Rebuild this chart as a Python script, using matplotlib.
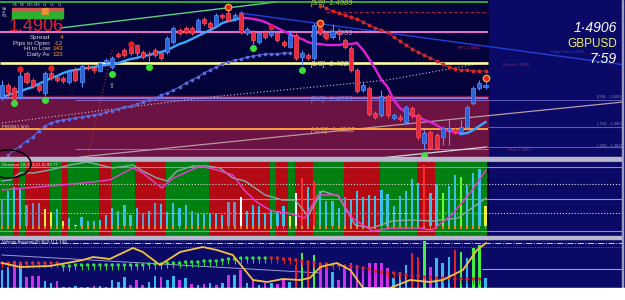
import matplotlib
matplotlib.use("Agg")
import matplotlib.pyplot as plt
from matplotlib.patches import Rectangle, Ellipse
import numpy as np

plt.rcParams['font.family'] = ['Liberation Sans', 'DejaVu Sans']

# ---------------- DATA ----------------
opens = [1.4894, 1.4906, 1.4903, 1.4894, 1.4918, 1.4911, 1.4906, 1.4898, 1.4918, 1.4914,
         1.4913, 1.4909, 1.4921, 1.4909, 1.4924, 1.4923, 1.4920, 1.4929, 1.4924, 1.4937,
         1.4941, 1.4944, 1.4946, 1.4939, 1.4937, 1.4941, 1.4938, 1.4939, 1.4949, 1.4961,
         1.4963, 1.4963, 1.4961, 1.4972, 1.4968, 1.4966, 1.4976, 1.4978, 1.4973, 1.4978,
         1.4958, 1.4959, 1.4949, 1.4959, 1.4956, 1.4958, 1.4949, 1.4944, 1.4956, 1.4934,
         1.4936, 1.4933, 1.4964, 1.4958, 1.4954, 1.4959, 1.4951, 1.4943, 1.4921, 1.4901,
         1.4903, 1.4878, 1.4876, 1.4895, 1.4873, 1.4874, 1.4869, 1.4883, 1.4876, 1.4848,
         1.4859, 1.4856, 1.4854, 1.4861, 1.4862, 1.4859, 1.4864, 1.4888, 1.4903, 1.4904]
closes = [1.4906, 1.4899, 1.4892, 1.4915, 1.4909, 1.4905, 1.4901, 1.4918, 1.4913, 1.4911,
          1.4910, 1.4920, 1.4911, 1.4925, 1.4923, 1.4921, 1.4928, 1.4931, 1.4933, 1.4935,
          1.4936, 1.4938, 1.4938, 1.4934, 1.4936, 1.4936, 1.4933, 1.4953, 1.4963, 1.4958,
          1.4959, 1.4958, 1.4971, 1.4968, 1.4964, 1.4976, 1.4974, 1.4971, 1.4976, 1.4959,
          1.4962, 1.4951, 1.4958, 1.4954, 1.4959, 1.4951, 1.4946, 1.4956, 1.4933, 1.4938,
          1.4933, 1.4966, 1.4958, 1.4953, 1.4960, 1.4957, 1.4944, 1.4921, 1.4900, 1.4906,
          1.4877, 1.4874, 1.4895, 1.4876, 1.4876, 1.4872, 1.4884, 1.4876, 1.4854, 1.4858,
          1.4843, 1.4843, 1.4863, 1.4863, 1.4859, 1.4864, 1.4884, 1.4903, 1.4908, 1.4906]
highs = [1.4911, 1.4908, 1.4905, 1.4920, 1.4920, 1.4913, 1.4908, 1.4920, 1.4921, 1.4916,
         1.4915, 1.4922, 1.4924, 1.4927, 1.4927, 1.4925, 1.4930, 1.4933, 1.4935, 1.4939,
         1.4943, 1.4945, 1.4947, 1.4941, 1.4940, 1.4943, 1.4940, 1.4955, 1.4965, 1.4963,
         1.4965, 1.4965, 1.4973, 1.4974, 1.4970, 1.4978, 1.4978, 1.4981, 1.4978, 1.4980,
         1.4964, 1.4961, 1.4960, 1.4961, 1.4961, 1.4960, 1.4951, 1.4961, 1.4958, 1.4941,
         1.4938, 1.4968, 1.4966, 1.4960, 1.4967, 1.4963, 1.4953, 1.4945, 1.4923, 1.4909,
         1.4905, 1.4880, 1.4901, 1.4897, 1.4878, 1.4877, 1.4886, 1.4885, 1.4878, 1.4861,
         1.4861, 1.4858, 1.4865, 1.4871, 1.4864, 1.4871, 1.4886, 1.4905, 1.4911, 1.4910]
lows = [1.4891, 1.4895, 1.4890, 1.4892, 1.4907, 1.4903, 1.4899, 1.4895, 1.4911, 1.4909,
        1.4908, 1.4907, 1.4909, 1.4904, 1.4921, 1.4918, 1.4919, 1.4927, 1.4922, 1.4933,
        1.4934, 1.4936, 1.4935, 1.4932, 1.4929, 1.4934, 1.4931, 1.4937, 1.4947, 1.4956,
        1.4957, 1.4956, 1.4960, 1.4966, 1.4962, 1.4964, 1.4972, 1.4969, 1.4971, 1.4957,
        1.4956, 1.4947, 1.4947, 1.4952, 1.4954, 1.4949, 1.4944, 1.4943, 1.4931, 1.4926,
        1.4931, 1.4931, 1.4956, 1.4951, 1.4952, 1.4951, 1.4942, 1.4919, 1.4898, 1.4899,
        1.4875, 1.4872, 1.4874, 1.4873, 1.4871, 1.4870, 1.4867, 1.4873, 1.4851, 1.4842,
        1.4841, 1.4841, 1.4846, 1.4846, 1.4857, 1.4857, 1.4862, 1.4886, 1.4901, 1.4902]

# trend moving average (cyan = rising, magenta = falling)
ma_main = [1.4894, 1.4896, 1.4898, 1.4900, 1.4902, 1.4904, 1.4907, 1.4910, 1.4913, 1.4915,
           1.4918, 1.4920, 1.4921, 1.4922, 1.4923, 1.4924, 1.4925, 1.4926, 1.4927, 1.4928,
           1.4930, 1.4932, 1.4933, 1.4935, 1.4936, 1.4938, 1.4939, 1.4941, 1.4944, 1.4947,
           1.4949, 1.4952, 1.4955, 1.4958, 1.4961, 1.4964, 1.4968, 1.4970, 1.4971, 1.4973,
           1.4973, 1.4972, 1.4971, 1.4969, 1.4966, 1.4963, 1.4960, 1.4957, 1.4954, 1.4952,
           1.4949, 1.4947, 1.4947, 1.4946, 1.4946, 1.4946, 1.4947, 1.4947, 1.4948, 1.4941,
           1.4932, 1.4922, 1.4911, 1.4904, 1.4891, 1.4883, 1.4879, 1.4876, 1.4874, 1.4871,
           1.4869, 1.4866, 1.4862, 1.4860, 1.4859, 1.4857, 1.4858, 1.4861, 1.4865, 1.4869]
ma_falling_from, ma_falling_to = 39, 75

# slow dotted MA (blue), candles 1..47
slow_ma_start = 1
slow_ma = [1.4836, 1.4841, 1.4845, 1.4850, 1.4854, 1.4860, 1.4865, 1.4868, 1.4870, 1.4871,
           1.4872, 1.4873, 1.4874, 1.4875, 1.4876, 1.4877, 1.4879, 1.4880, 1.4882, 1.4884,
           1.4885, 1.4887, 1.4889, 1.4891, 1.4893, 1.4896, 1.4898, 1.4901, 1.4904, 1.4908,
           1.4911, 1.4914, 1.4918, 1.4921, 1.4924, 1.4927, 1.4929, 1.4931, 1.4932, 1.4934,
           1.4935, 1.4936, 1.4937, 1.4937, 1.4937, 1.4938, 1.4938]
# red dotted MA, candles 52..79
red_ma_start = 52
red_ma = [1.4985, 1.4983, 1.4980, 1.4978, 1.4976, 1.4974, 1.4972, 1.4969, 1.4966, 1.4963,
          1.4961, 1.4959, 1.4954, 1.4950, 1.4946, 1.4942, 1.4939, 1.4936, 1.4933, 1.4930,
          1.4927, 1.4924, 1.4922, 1.4921, 1.4921, 1.4920, 1.4920, 1.4920]

# Murrey levels
levels = [1.4989, 1.4959, 1.4928, 1.4893, 1.4862]
level_names = ['[3/8]', '[2/8]', '[1/8]', '[0/8]', '[-1/8]']

# fractal / signal markers
green_dot_idx = [2, 7, 18, 24, 41, 49, 69]
green_dot_price = [1.4888, 1.4891, 1.4917, 1.4924, 1.4943, 1.4921, 1.4836]
red_dot_idx = [3, 8, 21]
red_dot_price = [1.4922, 1.4923, 1.4947]
ring_idx = [37, 52, 79]
ring_price = [1.4984, 1.4968, 1.4913]
square_idx = [44]
square_price = [1.4964]

# trend lines (index, price)
green_trend = ([9.5, 44.8], [1.4963, 1.4989])
blue_trend = ([38.9, 101.8], [1.4978, 1.4926])
gray_trend = ([12.7, 101.5], [1.4834, 1.4889])
low_trend = ([61.8, 79.2], [1.4833, 1.4844])
white_dotted = ([0, 34, 63, 79.3], [1.4868, 1.4894, 1.4911, 1.4929])
red_vertical = ([18, 14], [1.4941, 1.4834])

# oscillator panel
trend_dir = list("gg" "r" "g" "rrrr" "gg" "r" "ggggg" "rr" "gggg" "rrrrr" "ggggggg"
                 "rrrrrrrrrr" "g" "rr" "g" "rrr" "ggggg" "rrrrrr" "gggggg" "rrr" "ggggggggg")
osc_vals = [26, 35, 39, 37, 21, 23, 23, 17, 14, 17, 5, 8, 1, 9, 5, 5, 6, 11, 18, 15,
            21, 11, 18, 13, 15, 23, 22, 14, 23, 18, 21, 15, 13, 13, 13, 12, 11, 24, 24, 29,
            15, 21, 20, 13, 15, 14, 20, 10, 33, 48, 39, 45, 35, 25, 25, 18, 29, 26, 35, 29,
            31, 30, 36, 32, 20, 30, 35, 47, 43, 61, 33, 42, 33, 40, 51, 49, 41, 53, 57, 20]
osc_cols = list("bcccbbbyyc" "ycyccccccc" "cccbcbcccc" "cccccccbbw"
                "cccccccywr" "crccccbccc" "cccccccccr" "ccgccgcccy")
osc_line1_x = [0, 1.3, 2.9, 5.1, 7.8, 11.1, 13.9, 16, 18.1, 21.4, 23, 25.3, 27, 28.6, 31.2, 33.5,
               35.6, 37.7, 39.7, 43, 45.8, 47.9, 50, 52.3, 54.9, 57.7, 60.5, 63.7, 67, 70.3, 74.5, 79.1]
osc_line1_v = [45, 46, 53, 53, 56, 61, 64, 61, 58, 61, 55, 48, 45, 55, 60, 60,
               58, 48, 45, 31, 26, 26, 10, 35, 30, 1, -2, 5, 6, 5, 8, 28]
osc_line2_x = [0, 7.8, 13.2, 17.6, 21.4, 23, 26.1, 28, 32.4, 35.1, 37.7, 39.7, 41.8, 44.1, 46.7,
               49.5, 51.6, 54.9, 57.2, 60.5, 63.7, 68, 70.3, 73.5, 76.7, 79.1]
osc_line2_v = [36, 40, 43, 46, 58, 53, 38, 48, 60, 56, 51, 35, 23, 15, 13,
               8, 31, 31, 8, -5, -2, -2, -4, 11, 35, 56]

# volume panel
vol_vals = [18, 21, 27, 26, 11, 12, 12, 7, 5, 7, 1, 1, 2, 1, 1, 2, 2, 1, 8, 6,
            11, 3, 8, 3, 6, 12, 11, 8, 12, 8, 10, 4, 3, 4, 5, 3, 5, 13, 13, 18,
            5, 9, 3, 5, 5, 4, 9, 6, 23, 35, 26, 33, 25, 21, 16, 8, 20, 25, 23, 20,
            25, 25, 25, 20, 10, 16, 23, 35, 31, 47, 21, 30, 25, 31, 38, 36, 30, 40, 43, 10]
vol_cols = list("ccmcmmmccm" "cmcmcmcccc" "cmmmccmccm" "cmcmcmcmcm"
                "cmcmcmmcrg" "rgmmcmmmmm" "mmmmcccrrg" "mcccrgcggc")
vol_avg_x = [0, 2.9, 7.8, 10.6, 13.2, 14.9, 17.6, 21.4, 23, 25.8, 29.1, 32.8, 35.1, 37.7, 41,
             43.3, 45.9, 48.7, 50.3, 52, 54.7, 56.9, 59, 63.4, 66.7, 69.9, 72, 75.3, 77.6, 79.1]
vol_avg_v = [25, 21, 22, 25, 28, 31, 29, 40, 36, 23, 36, 41, 38, 33, 8,
             6, 9, 8, 10, 21, 25, 18, 0, 0, 8, 6, 8, 18, 38, 45]
vol_dot_lvl = [25, 25, 25, 25, 25, 25, 25, 25, 25, 25,
               22, 22, 23, 23, 23, 23, 23, 23, 23, 23, 23, 23, 23, 23, 24, 24, 24, 25, 25, 25,
               26, 26, 26, 27, 27, 27, 28, 29, 29, 30, 30, 30, 30, 30,
               30, 30, 29, 29, 28, 27, 26, 25, 24, 24, 23, 23, 22, 22, 21, 20, 19, 17, 16, 15,
               15, 14, 13, 12, 12, 11, 11, 10, 10, 10, 9, 9, 9, 9, 9]
vol_dot_sig = list("rrrrrrrrrr" + "g" * 34 + "r" * 35)

# ---------------- FIGURE ----------------
W, H = 625, 300
NAVY = '#0a0a66'
fig = plt.figure(figsize=(6.25, 3.0), dpi=100, facecolor=NAVY)


def px_axes(top, bottom, left=0, right=622):
    return fig.add_axes([left / W, 1 - bottom / H, (right - left) / W, (bottom - top) / H])


ax = px_axes(0, 157)
axo = px_axes(160, 236)
axv = px_axes(239, 288)
XMIN, XMAX = -0.33, 101.3
DATA_END = 79.4
for a in (ax, axo, axv):
    a.set_xlim(XMIN, XMAX)
    a.set_facecolor(NAVY)
    a.set_xticks([])
    a.set_yticks([])
    for s in a.spines.values():
        s.set_visible(False)

PMIN, PMAX = 1.4834, 1.4991
ax.set_ylim(PMIN, PMAX)
axo.set_ylim(-10, 66)
axv.set_ylim(0, 49)

# separators / frame
for top, h in ((157, 3), (236, 3)):
    fig.patches.append(Rectangle((0, 1 - (top + h) / H), 622 / W, h / H,
                                 transform=fig.transFigure, color='#b8b8cc', zorder=5))
fig.patches.append(Rectangle((622 / W, 12 / H), 1.3 / W, 288 / H, transform=fig.transFigure,
                             color='#9a9ac0', zorder=5))
fig.patches.append(Rectangle((0, 0), 1, 12 / H, transform=fig.transFigure, color='white', zorder=6))

# ---- main panel ----
idx = np.arange(len(opens))
ax.add_patch(Rectangle((XMIN, PMIN), DATA_END - XMIN, PMAX - PMIN, color='#03033a', zorder=0))
ax.add_patch(Rectangle((XMIN, PMIN), DATA_END - XMIN, levels[3] + 0.0002 - PMIN, color='#6b1342', zorder=0.2))

lvl_cols = ['#36c236', '#e070c8', '#ffff9c', '#8a8aff', '#ffa040']
lvl_lw = [1.2, 1.5, 1.9, 1.2, 1.4]
lbl_cols = ['#b8c840', '#9a9ad0', '#e8e860', '#6a78e0', '#e89a40']
for lv, c, lw in zip(levels, lvl_cols, lvl_lw):
    ax.hlines(lv, XMIN, DATA_END, color=c, lw=lw, zorder=2)
for lv, name, c in zip(levels, level_names, lbl_cols):
    ax.text(50.3, lv - 0.00015, f'{name}  {lv:.4f}', color=c, fontsize=5.5, style='italic',
            va='center', ha='left', zorder=2.5)

ax.hlines(levels[3] - 0.0002, 12, DATA_END, color='#8a5ab0', lw=0.8, zorder=1)
ax.hlines(1.4842, 12, DATA_END, color='#8a6ac8', lw=0.8, zorder=1)
ax.hlines([1.4891, 1.4864, 1.4844], DATA_END, XMAX, color='#5a5ab8', lw=0.8, zorder=1)
ax.hlines(1.4979, 53, DATA_END, color='#a02050', lw=0.8, linestyles=(0, (3, 2)), zorder=1)

ax.plot(*green_trend, color='#5ccf86', lw=1.0, zorder=1.5)
ax.plot(*blue_trend, color='#2040d8', lw=1.0, zorder=1.5)
ax.plot(*gray_trend, color='#b89aa6', lw=0.9, zorder=1.5)
ax.plot(*low_trend, color='#d8d8d8', lw=0.9, zorder=1.5)
ax.plot(*white_dotted, color='#c8c8c8', lw=0.8, ls=(0, (1, 2)), zorder=1.5)
ax.plot(*red_vertical, color='#c03030', lw=0.8, ls=(0, (1, 2)), zorder=1.5)

# dotted MAs
sx = np.arange(slow_ma_start, slow_ma_start + len(slow_ma))
ax.plot(sx, slow_ma, color='#5a6ae0', lw=0.7, marker='o', ms=1.6, zorder=2)
rx = np.arange(red_ma_start, red_ma_start + len(red_ma))
ax.plot(rx, red_ma, color='#d02a2a', lw=0.7, marker='o', ms=1.8, zorder=2)

# main MA with colour segments
ma = np.array(ma_main)
ax.plot(idx[:ma_falling_from + 1], ma[:ma_falling_from + 1], color='#3aa8ff', lw=1.7, zorder=3)
ax.plot(idx[ma_falling_from:ma_falling_to + 1], ma[ma_falling_from:ma_falling_to + 1],
        color='#e020d8', lw=1.7, zorder=3)
ax.plot(idx[ma_falling_to:], ma[ma_falling_to:], color='#3aa8ff', lw=1.7, zorder=3)

# candles
o = np.array(opens); c = np.array(closes); hi = np.array(highs); lo = np.array(lows)
bull = c >= o
body_col = np.where(bull, '#2c64d8', '#e8283c')
edge_col = np.where(bull, '#5a90ff', '#ff5060')
ax.vlines(idx, lo, hi, colors=edge_col, lw=0.8, zorder=4)
ax.bar(idx, np.maximum(np.abs(c - o), 0.00012), bottom=np.minimum(o, c), width=0.66,
       color=body_col, edgecolor=edge_col, linewidth=0.5, zorder=4.5)

ax.plot(green_dot_idx, green_dot_price, 'o', color='#38e038', ms=4, zorder=6)
ax.plot(red_dot_idx, red_dot_price, 'o', color='#e02020', ms=3.6, zorder=6)
ax.plot(ring_idx, ring_price, 'o', mfc='#e02010', mec='#ffa030', mew=1.0, ms=4.6, zorder=6)
ax.plot(square_idx, square_price, 's', color='#e02020', ms=3.4, zorder=6)
ax.text(18, 1.4905, '\u21e7', color='#c8c890', fontsize=5, ha='center', va='center', zorder=6,
        family='DejaVu Sans')

# ---- oscillator panel ----
axo.add_patch(Rectangle((XMIN, -10), DATA_END - XMIN, 76, color='#03033a', zorder=0))
start = 0
for i in range(1, len(trend_dir) + 1):
    if i == len(trend_dir) or trend_dir[i] != trend_dir[start]:
        x0 = XMIN if start == 0 else start - 0.2
        x1 = min(i - 0.2, DATA_END - 0.2)
        axo.axvspan(x0, x1, color='#008010' if trend_dir[start] == 'g' else '#b30a14', lw=0, zorder=0.5)
        start = i
for yv, st, col in ((65, '-', '#9a9ae0'), (59, '-', '#8a8ae8'), (42, ':', '#d8d8d8'),
                    (27, '-', '#8a8ae8'), (13, ':', '#d8d8d8'), (-5, '-', '#8a8ae8')):
    axo.axhline(yv, color=col, lw=0.8, ls=st, zorder=1)
cmap = {'c': '#38c0e8', 'b': '#6a90c8', 'y': '#f0f040', 'w': '#ffffff', 'r': '#ff2a2a', 'g': '#60ff30'}
axo.bar(idx, osc_vals, width=0.36, color=[cmap[k] for k in osc_cols], zorder=2)
axo.bar(idx, [-3] * len(idx), width=0.3, color='#e08a30', zorder=2)
axo.plot(osc_line1_x, osc_line1_v, color='#8aa8a8', lw=1.0, zorder=3)
axo.plot(osc_line2_x, osc_line2_v, color='#e040c8', lw=1.1, zorder=3)

# ---- volume panel ----
axv.axhline(45, color='#d0d0e0', lw=0.7, ls='-.', zorder=1)
axv.axhline(41, color='#8080c0', lw=0.6, ls=':', zorder=1)
axv.plot([0, 52], [33, 15], color='#9a9ad8', lw=0.7, zorder=1)
axv.hlines(19, 78.5, XMAX, color='#9a9ae0', lw=0.8, zorder=1)
vmap = {'c': '#38b8f0', 'm': '#d030e8', 'r': '#e8202a', 'g': '#40f040'}
axv.bar(idx, vol_vals, width=0.42, color=[vmap[k] for k in vol_cols], zorder=2)
dx = np.arange(len(vol_dot_lvl))
dcol = ['#e02828' if s == 'r' else '#30e040' for s in vol_dot_sig]
axv.vlines(dx, np.array(vol_dot_lvl) - 5, vol_dot_lvl, colors=dcol, lw=0.7, zorder=3)
axv.scatter(dx, vol_dot_lvl, s=6, c=dcol, zorder=4, linewidths=0)
axv.plot(vol_avg_x, vol_avg_v, color='#f4c040', lw=1.3, zorder=5)

# ---- texts ----
def ftext(x, y, s, **kw):
    fig.text(x / W, 1 - y / H, s, **kw)

# top-left table
tbl_cols = {'r': '#e05050', 'o': '#f09030', 'g': '#30b030'}
tbl_rows = ["rrrrorr", "ggggogg", "ggggggg"]
tf_names = ['M1', 'M5', 'M15', 'M30', 'H1', 'H4', 'D1']
row_names = ['MA', 'TR', 'PSL']
for k, nm in enumerate(tf_names):
    ftext(12 + 7.4 * k + 3.2, 5, nm, color='#b0b0c0', fontsize=2.6, ha='center', va='center')
for r, row in enumerate(tbl_rows):
    ftext(2, 9 + 3.6 * r, row_names[r], color='#c0c0c0', fontsize=2.4, ha='left', va='center')
    for k, code in enumerate(row):
        fig.patches.append(Rectangle(((12 + 7.4 * k) / W, 1 - (10.8 + 3.6 * r) / H), 6.6 / W, 3.0 / H,
                                     transform=fig.transFigure, color=tbl_cols[code], zorder=7))
ftext(9, 26.5, '1.4906', color='#e8222c', fontsize=13, ha='left', va='center')
info_lbl = ['Spread', 'Pips to Open', 'Hi to Low', 'Daily Av']
info_val = ['4', '-12', '143', '133']
for k, (l, v) in enumerate(zip(info_lbl, info_val)):
    ftext(50, 37.5 + 5.6 * k, l, color='#d8d8d8', fontsize=4.6, ha='right', va='center')
    ftext(63, 37.5 + 5.6 * k, v, color='#ff9a20', fontsize=4.6, ha='right', va='center')

# right side info
ftext(617, 28, '1\u00b74906', color='white', fontsize=10, style='italic', ha='right', va='center')
ftext(617, 44, 'GBPUSD', color='#f4f450', fontsize=8.5, ha='right', va='center')
ftext(617, 58.5, '7:59', color='white', fontsize=10, style='italic', ha='right', va='center')

# faint indicator labels
ftext(458, 48, 'HP+ 1.4941', color='#a03080', fontsize=3, ha='left', va='center')
ftext(503, 65, 'Dclose 1.4925', color='#8a2a7a', fontsize=3, ha='left', va='center')
ftext(584, 52, 'Daily Pivot 1.4941', color='#3444a8', fontsize=3, ha='right', va='center')
ftext(508, 150, 'Dlow 1.4842', color='#8a2a7a', fontsize=3, ha='left', va='center')
for yy, s in ((97, '(0/8) - 1.4893'), (124, '(-1/8) - 1.4862'), (146, '(-2/8) - 1.4831')):
    ftext(597, yy, s, color='#8080b8', fontsize=3, ha='left', va='center')
ftext(2, 127, 'FRONLY 5(V)', color='#e0e0e0', fontsize=3.2, ha='left', va='center')
ftext(2, 165, 'Direction 10(4) 2(21,0) 80 77', color='#e8e8e8', fontsize=3.2, ha='left', va='center')
ftext(2, 241.5, 'Volume Average(20,30,0,1) 1 198', color='#e8e8e8', fontsize=3.2, ha='left', va='center')

# hand-drawn annotation ellipse
fig.add_artist(Ellipse((8 / W, 1 - 164 / H), 46 / W, 28 / H, transform=fig.transFigure,
                       fill=False, edgecolor='black', lw=1.1, zorder=8))

fig.savefig('out.png', dpi=100, facecolor=fig.get_facecolor())
